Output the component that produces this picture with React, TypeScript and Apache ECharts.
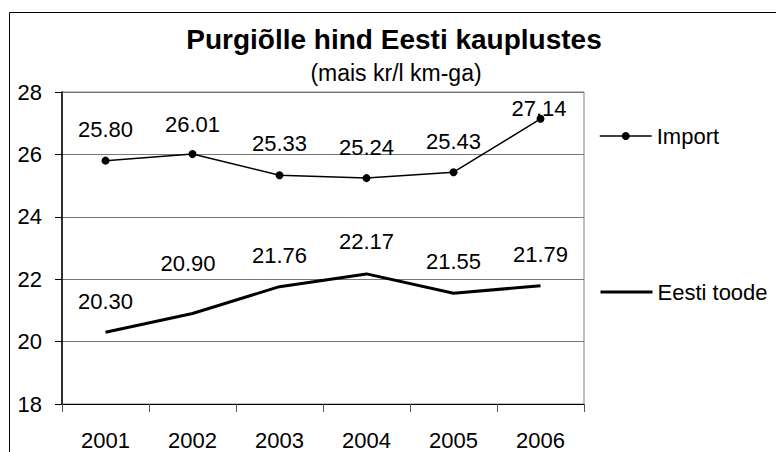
import React, { useEffect, useRef } from "react";
import * as echarts from "echarts";

const years = ["2001", "2002", "2003", "2004", "2005", "2006"];
const importValues = [25.8, 26.01, 25.33, 25.24, 25.43, 27.14];
const eestiValues = [20.3, 20.9, 21.76, 22.17, 21.55, 21.79];
const yTicks = { min: 18, max: 28, interval: 2 };
const titleText = "Purgiõlle hind Eesti kauplustes";
const subtitleText = "(mais kr/l km-ga)";
const seriesNames = ["Import", "Eesti toode"];

// label placement (styling only)
const importLabelOffsets = [[0, -31], [0, -30], [0, -32], [0, -31], [0, -31], [-1.5, -10]];
const eestiLabelOffsets = [[0, -31], [-4.5, -50], [0, -31], [0, -32], [0, -32], [0, -31]];

const FONT = "Liberation Sans, Arial, sans-serif";

export default function App() {
  const ref = useRef<HTMLDivElement>(null);
  useEffect(() => {
    if (!ref.current) return;
    const chart = echarts.init(ref.current, undefined, { renderer: "svg" });
    const fmt = (p: any) => Number(p.value).toFixed(2);
    chart.setOption({
      animation: false,
      backgroundColor: "#fff",
      textStyle: { fontFamily: FONT, color: "#000" },
      title: [
        {
          text: titleText,
          left: 394,
          top: 25,
          textAlign: "center",
          padding: 0,
          textStyle: { fontFamily: FONT, fontSize: 28, fontWeight: "bold", color: "#000" },
        },
        {
          text: subtitleText,
          left: 396,
          top: 61,
          textAlign: "center",
          padding: 0,
          textStyle: { fontFamily: FONT, fontSize: 23, fontWeight: "normal", color: "#000" },
        },
      ],
      graphic: [
        {
          type: "rect",
          shape: { x: 9.5, y: 12.5, width: 800, height: 500 },
          style: { fill: "none", stroke: "#000", lineWidth: 1 },
          silent: true,
          z: -1,
        },
      ],
      legend: [
        {
          data: [seriesNames[0]],
          orient: "vertical",
          left: 599,
          top: 125,
          padding: 0,
          itemWidth: 52,
          itemHeight: 10,
          itemGap: 0,
          lineStyle: { width: 1.5 },
          textStyle: { fontFamily: FONT, fontSize: 22, color: "#000" },
        },
        {
          data: [seriesNames[1]],
          orient: "vertical",
          left: 599,
          top: 281,
          padding: 0,
          itemWidth: 52,
          itemHeight: 10,
          itemGap: 0,
          lineStyle: { width: 3 },
          textStyle: { fontFamily: FONT, fontSize: 22, color: "#000" },
        },
      ],
      grid: {
        left: 62,
        top: 92,
        right: 192,
        bottom: 48,
        show: true,
        borderColor: "#808080",
        borderWidth: 1,
        containLabel: false,
      },
      xAxis: {
        type: "category",
        data: years,
        boundaryGap: true,
        axisLine: { show: true, lineStyle: { color: "#000", width: 1 } },
        axisTick: { show: true, length: 8, lineStyle: { color: "#555", width: 1 } },
        axisLabel: { fontFamily: FONT, fontSize: 22, color: "#000", margin: 25 },
        splitLine: { show: false },
      },
      yAxis: {
        type: "value",
        min: yTicks.min,
        max: yTicks.max,
        interval: yTicks.interval,
        axisLine: { show: true, lineStyle: { color: "#000", width: 1.5 } },
        axisTick: { show: true, length: 7, lineStyle: { color: "#000", width: 1 } },
        axisLabel: { fontFamily: FONT, fontSize: 22, color: "#000", margin: 20 },
        splitLine: { show: true, lineStyle: { color: "#777", width: 1 } },
      },
      series: [
        {
          name: seriesNames[0],
          type: "line",
          data: importValues.map((v, i) => ({
            value: v,
            label: { offset: importLabelOffsets[i] },
          })),
          symbol: "circle",
          symbolSize: 8,
          itemStyle: { color: "#000" },
          lineStyle: { color: "#000", width: 1.5 },
          label: {
            show: true,
            position: "inside",
            formatter: fmt,
            fontFamily: FONT,
            fontSize: 22,
            color: "#000",
          },
          z: 3,
        },
        {
          name: seriesNames[1],
          type: "line",
          data: eestiValues.map((v, i) => ({
            value: v,
            label: { offset: eestiLabelOffsets[i] },
          })),
          symbol: "circle",
          symbolSize: 1,
          itemStyle: { color: "rgba(0,0,0,0)", borderWidth: 0 },
          lineStyle: { color: "#000", width: 3 },
          label: {
            show: true,
            position: "inside",
            formatter: fmt,
            fontFamily: FONT,
            fontSize: 22,
            color: "#000",
          },
          z: 3,
        },
      ],
    });
    return () => chart.dispose();
  }, []);
  return (
    <div
      ref={ref}
      style={{ position: "fixed", left: 0, top: 0, width: 776, height: 452 }}
    />
  );
}
